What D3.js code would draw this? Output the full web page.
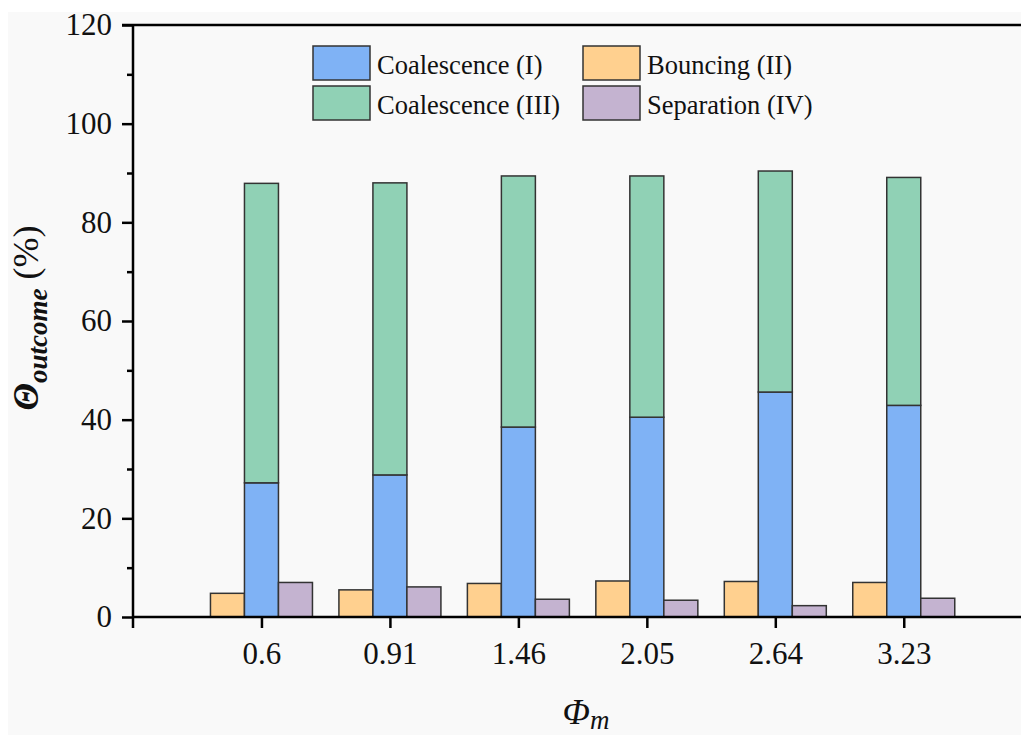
<!DOCTYPE html>
<html><head><meta charset="utf-8">
<script src="https://cdn.jsdelivr.net/npm/d3@7"></script>
<style>body{margin:0;background:#fff;} svg{display:block;}</style>
</head><body><svg id="c" width="1021" height="735"></svg>
<script>
const categories = ["0.6","0.91","1.46","2.05","2.64","3.23"];
const coalescenceI = [27.2, 28.8, 38.5, 40.5, 45.6, 42.9];
const coalescenceIII = [60.7, 59.2, 50.9, 48.9, 44.8, 46.2];
const bouncingII = [4.8, 5.5, 6.8, 7.3, 7.2, 7.0];
const separationIV = [7.0, 6.1, 3.6, 3.4, 2.3, 3.8];
const yTicks = [0,20,40,60,80,100,120];
const yMinor = [10,30,50,70,90,110];
const legendItems = [
  {label:"Coalescence (I)", color:"#7fb2f5"},
  {label:"Bouncing (II)", color:"#ffd08f"},
  {label:"Coalescence (III)", color:"#90d1b5"},
  {label:"Separation (IV)", color:"#c4b3d0"}
];
const colors = {I:"#7fb2f5", II:"#ffd08f", III:"#90d1b5", IV:"#c4b3d0"};

(function(){
const svg = d3.select("#c");
const font = "'Liberation Serif','Times New Roman',serif";
svg.append("rect").attr("x",8).attr("y",12).attr("width",1013).attr("height",723).attr("fill","#f9f9f9");

const mLeft = 133, mBottom = 617, mTop = 25;
const y = d3.scaleLinear().domain([0,120]).range([mBottom, mTop]);
const x = d3.scaleLinear().domain([0,7]).range([mLeft, mLeft + 7*128.46]);
const bw = 34;

const g = svg.append("g");
categories.forEach((c,i)=>{
  const cx = x(i+1);
  g.append("rect").attr("x",cx-17-bw).attr("width",bw).attr("y",y(bouncingII[i])).attr("height",y(0)-y(bouncingII[i]))
    .attr("fill",colors.II).attr("stroke","#333").attr("stroke-width",1.5);
  g.append("rect").attr("x",cx-17).attr("width",bw).attr("y",y(coalescenceI[i])).attr("height",y(0)-y(coalescenceI[i]))
    .attr("fill",colors.I).attr("stroke","#333").attr("stroke-width",1.5);
  const tot = coalescenceI[i]+coalescenceIII[i];
  g.append("rect").attr("x",cx-17).attr("width",bw).attr("y",y(tot)).attr("height",y(coalescenceI[i])-y(tot))
    .attr("fill",colors.III).attr("stroke","#333").attr("stroke-width",1.5);
  g.append("rect").attr("x",cx+17).attr("width",bw).attr("y",y(separationIV[i])).attr("height",y(0)-y(separationIV[i]))
    .attr("fill",colors.IV).attr("stroke","#333").attr("stroke-width",1.5);
});

const yAxis = svg.append("g").attr("transform",`translate(${mLeft},0)`)
  .call(d3.axisLeft(y).tickValues(yTicks).tickSize(11).tickPadding(10).tickFormat(d3.format("d")));
yAxis.select(".domain").remove();
yAxis.selectAll("line").attr("stroke","#000").attr("stroke-width",2.5);
yAxis.selectAll("text").attr("font-family",font).attr("font-size",31).attr("fill","#111");
svg.append("g").attr("transform",`translate(${mLeft},0)`)
  .call(d3.axisLeft(y).tickValues(yMinor).tickSize(6).tickFormat(""))
  .call(s=>s.select(".domain").remove())
  .selectAll("line").attr("stroke","#000").attr("stroke-width",2.5);

const xAxis = svg.append("g").attr("transform",`translate(0,${mBottom})`)
  .call(d3.axisBottom(x).tickValues(d3.range(1,7)).tickSize(11).tickPadding(14).tickFormat(d=>categories[d-1]));
xAxis.select(".domain").remove();
xAxis.selectAll("line").attr("stroke","#000").attr("stroke-width",2.5);
xAxis.selectAll("text").attr("font-family",font).attr("font-size",31).attr("fill","#111");

svg.append("line").attr("x1",mLeft).attr("x2",mLeft).attr("y1",mTop-1).attr("y2",mBottom+11).attr("stroke","#000").attr("stroke-width",2.5);
svg.append("line").attr("x1",mLeft).attr("x2",1021).attr("y1",mBottom).attr("y2",mBottom).attr("stroke","#000").attr("stroke-width",2.5);
svg.append("line").attr("x1",mLeft-11).attr("x2",1021).attr("y1",mTop).attr("y2",mTop).attr("stroke","#000").attr("stroke-width",2.5);

const legPos = [[313,46],[583,46],[313,86],[583,86]];
legendItems.forEach((d,i)=>{
  const [lx,ly] = legPos[i];
  svg.append("rect").attr("x",lx).attr("y",ly).attr("width",57).attr("height",34)
    .attr("fill",d.color).attr("stroke","#333").attr("stroke-width",1.5);
  svg.append("text").attr("x",lx+64).attr("y",ly+28).attr("font-family",font).attr("font-size",26.5).attr("fill","#111").text(d.label);
});

const yt = svg.append("text").attr("transform","translate(38,318) rotate(-90)").attr("text-anchor","middle")
  .attr("font-family",font).attr("font-size",36).attr("fill","#111");
yt.append("tspan").attr("font-weight","bold").attr("font-style","italic").text("Θ");
yt.append("tspan").attr("dy",9).attr("font-size",27).attr("font-weight","bold").attr("font-style","italic").text("outcome");
yt.append("tspan").attr("dy",-9).text(" (%)");

const xt = svg.append("text").attr("x",586).attr("y",724).attr("text-anchor","middle")
  .attr("font-family",font).attr("font-size",36).attr("font-style","italic").attr("fill","#111");
xt.append("tspan").text("Φ");
xt.append("tspan").attr("dy",5).attr("font-size",27).text("m");
})();
</script></body></html>
